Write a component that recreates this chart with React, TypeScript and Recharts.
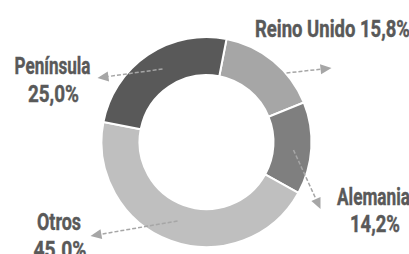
import { PieChart, Pie, Cell } from "recharts";

const names = ["Reino Unido", "Alemania", "Otros", "Península"];
const shares = [15.8, 14.2, 45.0, 25.0];
const shareLabels = ["15,8%", "14,2%", "45.0%", "25,0%"];

const COLORS = ["#a6a6a6", "#7f7f7f", "#bfbfbf", "#595959"];

// label layout relative to the pie centre: arrow from -> to, text lines [x, baseline, width]
const LAYOUT = [
  { from: [80, -69], to: [125, -74], lines: [[126, -105, 155]], oneLine: true },
  { from: [87, 8], to: [114, 67], lines: [[167, 63, 73], [168.5, 90, 50]], oneLine: false },
  { from: [-29, 79], to: [-116, 94], lines: [[-147.5, 88, 44], [-146.5, 116, 53]], oneLine: false },
  { from: [-44, -73], to: [-109, -64], lines: [[-154, -68, 76], [-153, -40, 51]], oneLine: false },
];

const data = names.map((n, i) => ({ name: n, value: shares[i], label: shareLabels[i] }));

const FONT = "Roboto, 'DejaVu Sans', sans-serif";

function renderLabel(props: any) {
  const { cx, cy, index } = props;
  const l = LAYOUT[index];
  const x1 = cx + l.from[0];
  const y1 = cy + l.from[1];
  const x2 = cx + l.to[0];
  const y2 = cy + l.to[1];
  const ang = Math.atan2(y2 - y1, x2 - x1);
  const len = 11;
  const w = 5;
  const bx = x2 - len * Math.cos(ang);
  const by = y2 - len * Math.sin(ang);
  const px = -Math.sin(ang) * w;
  const py = Math.cos(ang) * w;
  const texts = l.oneLine
    ? [`${names[index]} ${shareLabels[index]}`]
    : [names[index], shareLabels[index]];
  return (
    <g key={`lbl-${index}`}>
      <line x1={x1} y1={y1} x2={bx} y2={by} stroke="#a6a6a6" strokeWidth={1.5} strokeDasharray="4 2" />
      <polygon points={`${x2},${y2} ${bx + px},${by + py} ${bx - px},${by - py}`} fill="#a6a6a6" />
      {texts.map((t, k) => (
        <text
          key={k}
          x={cx + l.lines[k][0]}
          y={cy + l.lines[k][1]}
          textAnchor="middle"
          textLength={l.lines[k][2]}
          lengthAdjust="spacingAndGlyphs"
          fill="#595959"
          stroke="#595959"
          strokeWidth={0.4}
          fontFamily={FONT}
          fontWeight="bold"
          fontSize={23}
        >
          {t}
        </text>
      ))}
    </g>
  );
}

export default function App() {
  return (
    <div style={{ position: "fixed", left: 0, top: 0, width: 409, height: 254, background: "#fff" }}>
      <PieChart width={409} height={254}>
        <Pie
          data={data}
          dataKey="value"
          cx={201.5}
          cy={137}
          innerRadius={67}
          outerRadius={105}
          startAngle={79}
          endAngle={-281}
          stroke="#ffffff"
          strokeWidth={2}
          label={renderLabel}
          labelLine={false}
          isAnimationActive={false}
        >
          {data.map((d, i) => (
            <Cell key={d.name} fill={COLORS[i]} />
          ))}
        </Pie>
      </PieChart>
    </div>
  );
}
